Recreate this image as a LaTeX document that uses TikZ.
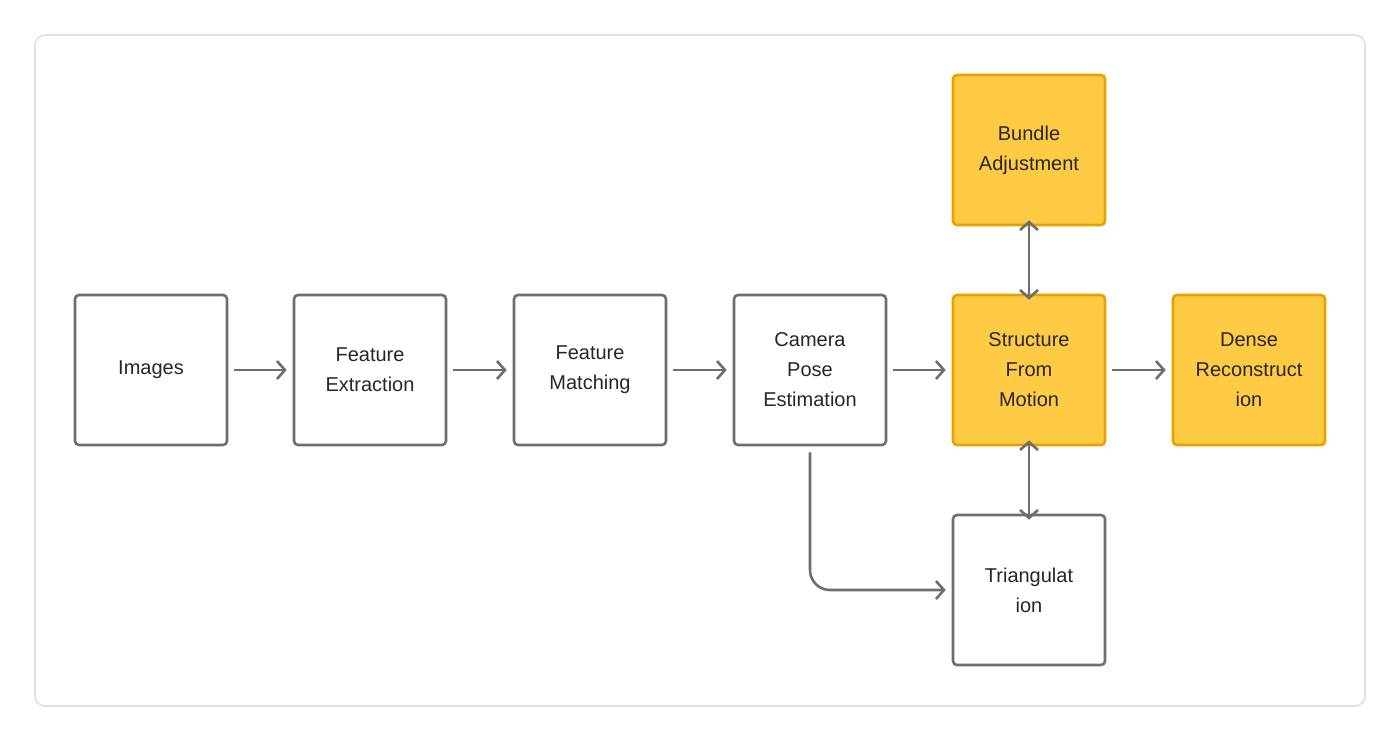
\documentclass[tikz,border=0pt]{standalone}
\usepackage{fontspec}
\setmainfont{Liberation Sans}
\usetikzlibrary{arrows.meta}
\definecolor{edge}{HTML}{6E6E6E}
\definecolor{gold}{HTML}{FFCB45}
\definecolor{golddraw}{HTML}{E8A200}
\tikzset{
  stage/.style={draw=edge, line width=1.3pt, rounded corners=2pt, minimum width=76pt,
    minimum height=75pt, align=center, font=\fontsize{10}{15}\selectfont, text=black!85},
  hot/.style={stage, fill=gold, draw=golddraw},
  flow/.style={draw=edge, line width=1.3pt, -{Straight Barb[length=4pt,width=9pt]}},
  both/.style={flow, {Straight Barb[length=4pt,width=9pt]}-{Straight Barb[length=4pt,width=9pt]}}
}
\begin{document}
\begin{tikzpicture}[x=0.5pt,y=-0.5pt]
	\useasboundingbox (0,0) rectangle (1400,741);
	\draw[black!12, line width=0.8pt, rounded corners=5pt] (35,35) rectangle (1365,706);
	\node[stage] (img) at (151,370) {Images};
	\node[stage] (ext) at (370,370) {Feature\\Extraction};
	\node[stage] (mat) at (590,370) {Feature\\Matching};
	\node[stage] (pose) at (810,370) {Camera\\Pose\\Estimation};
	\node[hot] (sfm) at (1029,370) {Structure\\From\\Motion};
	\node[hot] (dense) at (1249,370) {Dense\\Reconstruct\\ion};
	\node[hot] (ba) at (1029,150) {Bundle\\Adjustment};
	\node[stage] (tri) at (1029,590) {Triangulat\\ion};
	\draw[flow] ([xshift=3pt]img.east) -- ([xshift=-3pt]ext.west);
	\draw[flow] ([xshift=3pt]ext.east) -- ([xshift=-3pt]mat.west);
	\draw[flow] ([xshift=3pt]mat.east) -- ([xshift=-3pt]pose.west);
	\draw[flow] ([xshift=3pt]pose.east) -- ([xshift=-3pt]sfm.west);
	\draw[flow] ([xshift=3pt]sfm.east) -- ([xshift=-3pt]dense.west);
	\draw[both] ([yshift=3pt]ba.south) -- ([yshift=-3pt]sfm.north);
	\draw[both] ([yshift=3pt]sfm.south) -- ([yshift=-3pt]tri.north);
	\draw[flow, rounded corners=10pt] ([yshift=-3pt]pose.south) |- ([xshift=-3pt]tri.west);
\end{tikzpicture}
\end{document}
